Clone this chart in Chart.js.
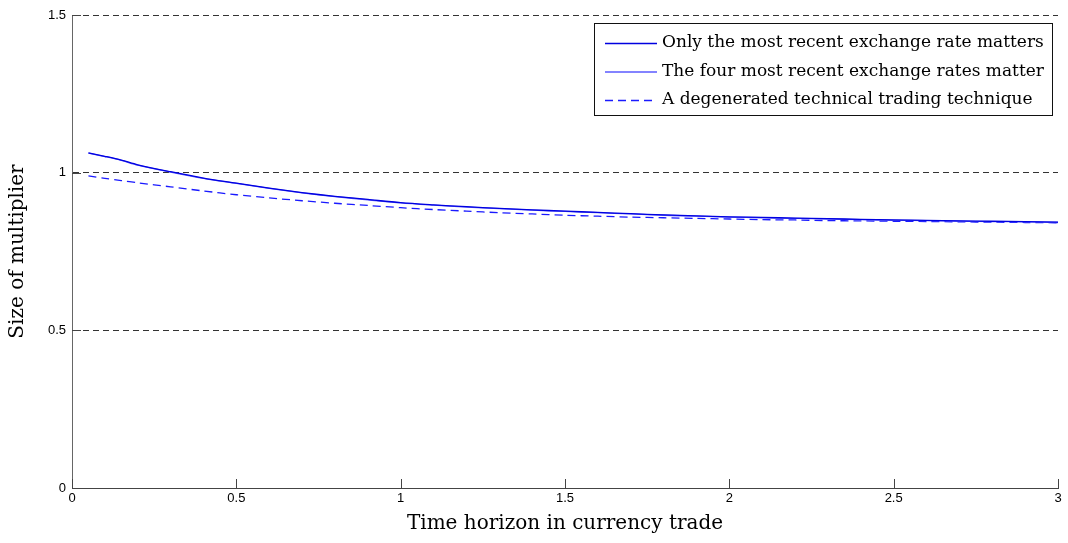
<!DOCTYPE html>
<html>
<head>
<meta charset="utf-8">
<script src="https://cdn.jsdelivr.net/npm/chart.js@4/dist/chart.umd.min.js"></script>
<style>
  html, body { margin: 0; padding: 0; background: #fff; }
  #wrap { width: 1068px; height: 543px; }
</style>
</head>
<body>
<div id="wrap"><canvas id="multChart"></canvas></div>
<script>
// time horizon (x) and multiplier values
const horizon = [0.05, 0.1, 0.15, 0.2, 0.3, 0.4, 0.5, 0.6, 0.7, 0.8, 0.9, 1.0, 1.1, 1.2, 1.3, 1.4, 1.5,
                 1.6, 1.7, 1.8, 1.9, 2.0, 2.1, 2.2, 2.3, 2.4, 2.5, 2.6, 2.7, 2.8, 2.9, 3.0];
const mostRecent = [1.063, 1.052, 1.040, 1.025, 1.003, 0.983, 0.967, 0.951, 0.937, 0.925, 0.915, 0.905,
                    0.898, 0.892, 0.887, 0.882, 0.878, 0.874, 0.870, 0.866, 0.863, 0.860, 0.858, 0.856,
                    0.854, 0.852, 0.850, 0.849, 0.847, 0.846, 0.845, 0.843];
const fourRecent = [1.062, 1.051, 1.039, 1.024, 1.002, 0.982, 0.966, 0.950, 0.936, 0.924, 0.914, 0.904,
                    0.897, 0.891, 0.886, 0.881, 0.877, 0.873, 0.869, 0.865, 0.862, 0.859, 0.857, 0.855,
                    0.853, 0.851, 0.849, 0.848, 0.846, 0.845, 0.844, 0.842];
const technical = [0.990, 0.982, 0.975, 0.968, 0.955, 0.942, 0.930, 0.920, 0.911, 0.903, 0.896, 0.889,
                   0.883, 0.878, 0.873, 0.869, 0.865, 0.862, 0.859, 0.857, 0.855, 0.853, 0.851, 0.850,
                   0.848, 0.847, 0.846, 0.845, 0.844, 0.843, 0.842, 0.841];
const seriesNames = ["Only the most recent exchange rate matters",
                     "The four most recent exchange rates matter",
                     "A degenerated technical trading technique"];
const xTicks = [0, 0.5, 1, 1.5, 2, 2.5, 3];
const yTicks = [0, 0.5, 1, 1.5];

const toPoints = (ys) => horizon.map((x, i) => ({ x: x, y: ys[i] }));
const serif = '"DejaVu Serif", "Liberation Serif", serif';
const sans = '"Liberation Sans", Arial, sans-serif';

// inward tick marks, matlab style
const innerTicks = {
    id: 'innerTicks',
    afterDatasetsDraw(chart) {
        const ctx = chart.ctx;
        const xs = chart.scales.x, ys = chart.scales.y;
        const area = chart.chartArea;
        ctx.save();
        ctx.strokeStyle = '#444';
        ctx.lineWidth = 1;
        ctx.beginPath();
        xTicks.forEach(v => {
            const px = Math.round(xs.getPixelForValue(v)) + 0.5;
            ctx.moveTo(px, area.bottom);
            ctx.lineTo(px, area.bottom - 9);
        });
        yTicks.forEach(v => {
            const py = Math.round(ys.getPixelForValue(v)) + 0.5;
            ctx.moveTo(area.left, py);
            ctx.lineTo(area.left + 9, py);
        });
        ctx.stroke();
        ctx.restore();
    }
};

// legend box in the upper right corner
const boxLegend = {
    id: 'boxLegend',
    afterDraw(chart) {
        const ctx = chart.ctx;
        const left = 594, top = 23, right = 1052, bottom = 115;
        ctx.save();
        ctx.fillStyle = '#fff';
        ctx.fillRect(left, top, right - left, bottom - top);
        ctx.strokeStyle = '#111';
        ctx.lineWidth = 1;
        ctx.strokeRect(left + 0.5, top + 0.5, right - left, bottom - top);
        ctx.font = '17px ' + serif;
        ctx.textBaseline = 'middle';
        ctx.fillStyle = '#000';
        chart.data.datasets.forEach((ds, i) => {
            const y = 43 + i * 28.5;
            ctx.strokeStyle = ds.borderColor;
            ctx.lineWidth = ds.borderWidth;
            ctx.setLineDash(ds.borderDash || []);
            ctx.beginPath();
            ctx.moveTo(605, y + 0.5);
            ctx.lineTo(657, y + 0.5);
            ctx.stroke();
            ctx.setLineDash([]);
            ctx.fillText(ds.label, 662, y);
        });
        ctx.restore();
    }
};

const ctx = document.getElementById('multChart');
new Chart(ctx, {
    type: 'line',
    data: {
        datasets: [{
            label: seriesNames[0],
            data: toPoints(mostRecent),
            borderColor: '#0000e0',
            borderWidth: 1.3,
            pointRadius: 0,
            tension: 0.3
        }, {
            label: seriesNames[1],
            data: toPoints(fourRecent),
            borderColor: '#5a5aff',
            borderWidth: 1.3,
            pointRadius: 0,
            tension: 0.3
        }, {
            label: seriesNames[2],
            data: toPoints(technical),
            borderColor: '#1a1aff',
            borderWidth: 1.3,
            borderDash: [8, 5],
            pointRadius: 0,
            tension: 0.3
        }]
    },
    options: {
        responsive: true,
        maintainAspectRatio: false,
        animation: false,
        layout: { padding: { top: 15, right: 10, left: 0, bottom: 0 } },
        plugins: {
            legend: { display: false },
            tooltip: { enabled: false }
        },
        scales: {
            x: {
                type: 'linear',
                min: 0,
                max: 3,
                afterBuildTicks: (scale) => { scale.ticks = xTicks.map(v => ({ value: v })); },
                grid: { display: false, drawTicks: false },
                border: { display: true, color: '#444', width: 1 },
                ticks: {
                    color: '#000',
                    padding: 3,
                    maxRotation: 0,
                    callback: (v) => String(v),
                    font: { family: sans, size: 13 }
                },
                title: {
                    display: true,
                    text: 'Time horizon in currency trade',
                    color: '#000',
                    padding: { top: 0, bottom: 7 },
                    font: { family: serif, size: 20 }
                },
                afterFit: (scale) => { scale.height = 55; }
            },
            y: {
                type: 'linear',
                min: 0,
                max: 1.5,
                afterBuildTicks: (scale) => { scale.ticks = yTicks.map(v => ({ value: v })); },
                grid: { color: '#333', lineWidth: 1, drawTicks: false },
                border: { display: true, color: '#666', width: 1, dash: [6, 4] },
                ticks: {
                    color: '#000',
                    padding: 6,
                    callback: (v) => String(v),
                    font: { family: sans, size: 13 }
                },
                title: {
                    display: true,
                    text: 'Size of multiplier',
                    color: '#000',
                    padding: { top: 6, bottom: 0 },
                    font: { family: serif, size: 20 }
                },
                afterFit: (scale) => { scale.width = 72; }
            }
        }
    },
    plugins: [innerTicks, boxLegend]
});
</script>
</body>
</html>
